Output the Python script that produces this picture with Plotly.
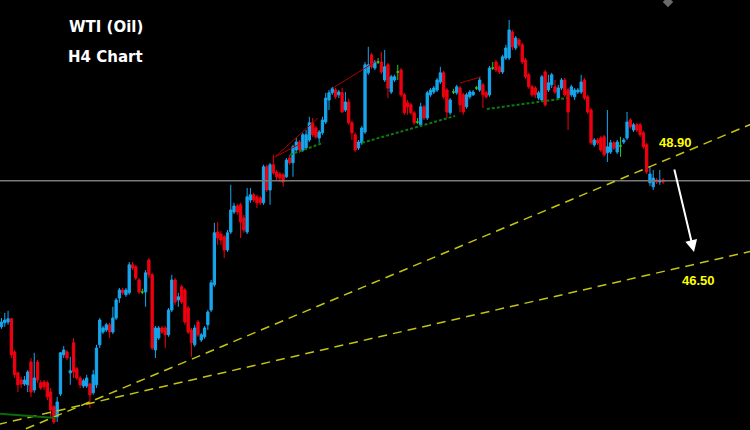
import plotly.graph_objects as go

# ---- data (WTI H4 candles) ----
opens = [45.03, 45.13, 45.15, 45.23, 44.40, 43.88, 43.70, 43.60, 43.58, 44.15,
         43.45, 44.15, 43.63, 43.65, 43.63, 43.40, 43.03, 42.78, 43.35, 44.33,
         44.40, 43.88, 44.63, 43.98, 43.75, 43.55, 43.55, 43.60, 43.38, 43.58,
         44.58, 44.90, 44.95, 45.08, 44.90, 45.25, 45.75, 45.95, 45.83, 45.88,
         46.58, 46.53, 46.20, 45.90, 45.90, 46.70, 46.33, 44.45, 44.75, 45.00,
         45.00, 44.83, 45.45, 46.20, 45.70, 46.03, 45.95, 45.50, 44.95, 44.58,
         45.15, 44.70, 44.78, 45.08, 45.45, 46.08, 47.40, 47.35, 47.28, 46.95,
         47.40, 47.90, 48.05, 48.08, 47.75, 47.40, 48.20, 48.33, 48.28, 48.25,
         48.13, 49.03, 48.45, 49.08, 48.90, 48.85, 48.83, 48.78, 49.25, 49.13,
         49.45, 49.65, 49.45, 49.50, 49.70, 50.13, 50.00, 49.75, 49.88, 50.15,
         50.70, 50.88, 50.95, 50.83, 50.88, 50.45, 50.65, 50.13, 49.83, 49.50,
         49.63, 49.90, 51.38, 51.83, 51.50, 51.65, 51.65, 51.20, 51.58, 50.90,
         51.20, 51.40, 51.45, 50.83, 50.63, 50.58, 50.38, 50.15, 50.08, 50.53,
         50.25, 50.83, 50.90, 50.95, 51.15, 51.38, 50.95, 50.38, 50.90, 50.88,
         51.00, 50.83, 50.53, 50.78, 50.83, 51.00, 50.95, 51.08, 50.88, 50.83,
         51.50, 51.65, 51.53, 51.40, 51.75, 51.75, 52.40, 52.00, 52.20, 52.08,
         51.70, 51.33, 51.03, 51.00, 50.75, 50.70, 51.40, 50.95, 51.08, 51.03,
         50.75, 51.00, 51.20, 50.95, 50.83, 50.78, 50.90, 50.90, 51.20, 50.78,
         50.45, 49.58, 49.70, 49.75, 49.78, 49.38, 49.40, 49.63, 49.40, 49.55,
         49.65, 49.75, 50.20, 49.95, 50.08, 50.08, 49.88, 49.58, 48.63, 48.53,
         48.70, 48.65, 48.70]
closes = [45.15, 45.20, 45.23, 44.33, 43.83, 43.58, 43.60, 43.70, 43.90, 43.40,
          43.75, 43.70, 43.50, 43.53, 43.28, 42.95, 42.65, 43.15, 44.38, 44.45,
          44.25, 43.93, 43.90, 43.75, 43.58, 43.68, 43.75, 43.33, 43.83, 44.50,
          45.20, 45.00, 45.08, 44.90, 45.25, 45.70, 45.95, 45.88, 45.95, 46.58,
          46.50, 46.25, 45.90, 45.90, 46.38, 46.33, 44.50, 45.00, 45.00, 44.90,
          44.83, 45.45, 46.20, 45.65, 45.78, 45.65, 45.15, 44.90, 44.63, 45.00,
          44.83, 44.83, 45.00, 45.40, 46.13, 47.38, 47.25, 47.20, 46.95, 47.38,
          47.95, 48.05, 47.90, 47.65, 47.45, 48.28, 48.33, 48.20, 48.13, 48.13,
          49.03, 48.45, 49.08, 48.88, 48.78, 48.75, 48.65, 49.20, 49.13, 49.53,
          49.65, 49.45, 49.83, 49.83, 50.13, 49.83, 49.78, 49.90, 50.20, 50.75,
          50.88, 50.98, 50.78, 50.90, 50.40, 50.65, 50.13, 49.88, 49.45, 49.65,
          50.00, 51.58, 51.58, 51.53, 51.65, 51.65, 51.40, 51.53, 51.00, 51.28,
          51.28, 51.40, 50.83, 50.38, 50.53, 50.38, 50.13, 50.15, 50.53, 50.25,
          50.88, 50.95, 51.00, 51.20, 51.38, 50.78, 50.40, 50.70, 50.90, 51.03,
          50.58, 50.40, 50.83, 50.90, 50.90, 51.00, 51.20, 50.83, 50.78, 51.50,
          51.50, 51.45, 51.40, 51.78, 52.00, 52.45, 52.03, 52.25, 52.08, 51.65,
          51.28, 51.03, 50.83, 50.83, 50.88, 51.28, 50.58, 51.13, 51.33, 50.90,
          51.00, 51.20, 50.83, 50.40, 51.03, 50.95, 50.95, 51.15, 50.75, 50.40,
          49.63, 49.70, 49.63, 49.45, 49.33, 49.53, 49.63, 49.50, 49.65, 49.55,
          49.70, 50.15, 50.03, 50.08, 49.95, 49.83, 49.53, 48.90, 48.85, 48.75,
          48.65, 48.70, 48.65]
highs = [45.25, 45.38, 45.43, 45.25, 44.45, 43.90, 43.78, 43.80, 43.95, 44.25,
         44.38, 44.20, 43.70, 43.70, 43.68, 43.50, 43.08, 43.28, 44.40, 44.55,
         44.45, 44.28, 44.75, 44.03, 43.80, 43.73, 43.83, 43.63, 43.95, 44.58,
         45.25, 45.05, 45.13, 45.13, 45.53, 45.75, 46.00, 46.00, 46.00, 46.65,
         46.65, 46.58, 46.25, 45.98, 46.45, 46.75, 46.38, 45.05, 45.05, 45.05,
         45.05, 45.50, 46.33, 46.25, 45.88, 46.08, 46.00, 45.55, 45.00, 45.08,
         45.20, 44.88, 45.05, 45.45, 46.20, 47.63, 47.65, 47.43, 47.33, 47.45,
         48.58, 48.13, 48.10, 48.13, 47.83, 48.50, 48.50, 48.38, 48.33, 48.30,
         49.08, 49.08, 49.13, 49.33, 48.95, 48.90, 48.88, 49.25, 49.33, 49.58,
         49.75, 49.70, 49.88, 49.95, 50.28, 50.25, 50.05, 49.95, 50.28, 50.88,
         50.95, 51.03, 51.00, 50.95, 51.00, 50.90, 50.73, 50.18, 49.88, 49.70,
         50.05, 51.65, 52.03, 51.88, 51.70, 51.75, 51.90, 51.95, 51.63, 51.33,
         51.33, 51.58, 51.50, 50.88, 50.70, 50.63, 50.43, 50.25, 50.63, 50.58,
         50.93, 51.00, 51.05, 51.25, 51.53, 51.43, 51.00, 50.75, 50.98, 51.08,
         51.05, 50.88, 50.88, 50.95, 50.95, 51.05, 51.28, 51.13, 50.93, 51.55,
         51.65, 51.70, 51.58, 51.83, 52.08, 52.70, 52.45, 52.30, 52.25, 52.13,
         51.75, 51.38, 51.08, 51.05, 50.93, 51.33, 51.45, 51.33, 51.38, 51.20,
         51.08, 51.25, 51.25, 51.00, 51.08, 51.00, 51.00, 51.33, 51.25, 50.83,
         50.50, 49.75, 49.75, 49.80, 49.83, 50.45, 49.70, 49.68, 49.70, 49.78,
         49.75, 50.40, 50.25, 50.13, 50.13, 50.13, 49.93, 49.63, 49.05, 48.95,
         48.75, 48.95, 48.75]
lows = [44.98, 45.03, 45.08, 44.25, 43.75, 43.40, 43.50, 43.55, 43.40, 43.28,
        43.38, 43.63, 43.45, 43.45, 43.20, 42.75, 42.60, 42.65, 43.30, 44.25,
        44.20, 43.58, 43.75, 43.70, 43.50, 43.50, 43.50, 43.00, 43.33, 43.50,
        44.50, 44.85, 44.90, 44.75, 44.85, 45.20, 45.63, 45.83, 45.78, 45.83,
        46.45, 46.20, 45.85, 45.85, 45.53, 46.25, 44.45, 44.25, 44.70, 44.85,
        44.50, 44.78, 45.40, 45.58, 45.53, 45.60, 45.08, 44.85, 44.28, 44.53,
        44.78, 44.65, 44.73, 44.95, 45.40, 46.03, 47.08, 47.08, 46.75, 46.90,
        47.35, 47.85, 47.83, 47.25, 47.38, 47.35, 48.13, 48.15, 48.00, 48.08,
        48.08, 48.40, 48.08, 48.83, 48.70, 48.65, 48.53, 48.75, 49.08, 48.78,
        49.40, 49.38, 49.40, 49.45, 49.65, 49.78, 49.73, 49.63, 49.83, 50.10,
        50.45, 50.83, 50.73, 50.75, 50.38, 50.40, 50.08, 49.70, 49.40, 49.45,
        49.58, 49.85, 51.33, 51.48, 51.45, 51.60, 51.35, 51.15, 50.75, 50.85,
        51.15, 51.20, 50.78, 50.33, 50.33, 50.33, 50.08, 50.10, 50.03, 50.20,
        50.20, 50.78, 50.85, 50.90, 51.10, 50.73, 50.25, 50.33, 50.85, 50.83,
        50.40, 50.33, 50.48, 50.73, 50.80, 50.95, 50.90, 50.50, 50.73, 50.78,
        51.45, 51.40, 51.35, 51.35, 51.70, 51.70, 51.95, 51.95, 52.03, 51.60,
        51.23, 50.98, 50.78, 50.75, 50.70, 50.65, 50.53, 50.90, 51.00, 50.85,
        50.70, 50.95, 50.78, 49.95, 50.78, 50.70, 50.85, 50.85, 50.70, 50.35,
        49.58, 49.53, 49.58, 49.40, 49.28, 49.15, 49.35, 49.45, 49.35, 49.28,
        49.60, 49.70, 49.98, 49.90, 49.90, 49.78, 49.48, 48.85, 48.55, 48.45,
        48.60, 48.58, 48.60]
bars = list(range(len(opens)))

current_price = 48.68
# trendlines: (bar, price) anchors
upper_trend = [(-1, 42.19), (229, 50.10)]
lower_trend = [(-1, 42.59), (229, 46.92)]
ma_line = [(-1, 42.86), (16.5, 42.75)]
green_dotted = [[(88.1, 49.33), (98.2, 49.63)],
                [(110.1, 49.63), (138.5, 50.30)],
                [(148.2, 50.475), (172.7, 50.75)]]
red_lines = [[(83.5, 49.275), (96.6, 50.25)],
             [(83.5, 49.275), (90.5, 49.575)],
             [(101.2, 51.00), (115.0, 51.70)],
             [(140.0, 51.125), (146.4, 51.275)]]
level_labels = [("48.90", 205.9, 49.63), ("46.50", 212.7, 46.20)]
arrow_head = (211.45, 46.90)
corner_mark = (203.5, 53.15)

UP = "#16A6EE"
DOWN = "#F00010"
DOJI = "#22CC22"

fig = go.Figure()

def add_line(pts, color, width, dash=None):
    fig.add_trace(go.Scatter(x=[p[0] for p in pts], y=[p[1] for p in pts], mode="lines",
                             line=dict(color=color, width=width, dash=dash),
                             hoverinfo="skip", showlegend=False))

add_line([(-1, current_price), (229, current_price)], "#7a7a7a", 1.5)
add_line(upper_trend, "#C4C412", 1.5, "9px,6px")
add_line(lower_trend, "#C4C412", 1.5, "9px,6px")
add_line(ma_line, "#0B6B0B", 2)
for seg in green_dotted:
    add_line(seg, "#0E7A0E", 2, "3px,2px")
for seg in red_lines:
    add_line(seg, "#B00000", 1)

norm = [i for i in bars if opens[i] != closes[i]]
doji = [i for i in bars if opens[i] == closes[i]]

fig.add_trace(go.Candlestick(
    x=[bars[i] for i in norm], open=[opens[i] for i in norm], high=[highs[i] for i in norm],
    low=[lows[i] for i in norm], close=[closes[i] for i in norm],
    increasing=dict(line=dict(color=UP, width=1), fillcolor=UP),
    decreasing=dict(line=dict(color=DOWN, width=1), fillcolor=DOWN),
    whiskerwidth=0, hoverinfo="skip", showlegend=False))
fig.add_trace(go.Candlestick(
    x=[bars[i] for i in doji], open=[opens[i] for i in doji], high=[highs[i] for i in doji],
    low=[lows[i] for i in doji], close=[closes[i] for i in doji],
    increasing=dict(line=dict(color=DOJI, width=1), fillcolor=DOJI),
    decreasing=dict(line=dict(color=DOJI, width=1), fillcolor=DOJI),
    whiskerwidth=0, hoverinfo="skip", showlegend=False))

fig.add_trace(go.Scatter(x=[corner_mark[0]], y=[corner_mark[1]], mode="markers",
                         marker=dict(symbol="diamond", size=8, color="#6a6a6a"),
                         cliponaxis=False, hoverinfo="skip", showlegend=False))

TITLE_FONT = "DejaVu Sans, Verdana, sans-serif"
LABEL_FONT = "Arial, Liberation Sans, sans-serif"
annotations = [
    dict(x=0.1413, y=0.937, xref="paper", yref="paper", xanchor="center", yanchor="middle",
         text="<b>WTI (Oil)</b>", showarrow=False, font=dict(family=TITLE_FONT, size=15, color="white")),
    dict(x=0.1413, y=0.8674, xref="paper", yref="paper", xanchor="center", yanchor="middle",
         text="<b>H4 Chart</b>", showarrow=False, font=dict(family=TITLE_FONT, size=15, color="white")),
    dict(x=arrow_head[0], y=arrow_head[1], xref="x", yref="y", ax=-20, ay=-84, axref="pixel", ayref="pixel",
         text="", showarrow=True, arrowhead=2, arrowsize=1.2, arrowwidth=2, arrowcolor="white"),
]
for txt, bx, py in level_labels:
    annotations.append(dict(x=bx, y=py, xref="x", yref="y", xanchor="center", yanchor="middle",
                            text="<b>" + txt + "</b>", showarrow=False,
                            font=dict(family=LABEL_FONT, size=13, color="#FFFF00")))

fig.update_layout(
    width=750, height=430, margin=dict(l=0, r=0, t=0, b=0),
    paper_bgcolor="black", plot_bgcolor="black",
    xaxis=dict(range=[-0.46, 228.55], visible=False, rangeslider=dict(visible=False), fixedrange=True),
    yaxis=dict(range=[42.45, 53.2], visible=False, fixedrange=True),
    boxgap=0.3, boxgroupgap=0, boxmode="overlay",
    annotations=annotations, showlegend=False,
)

fig.write_html("out.html", config={"displayModeBar": False, "staticPlot": True},
               post_script="document.body.style.margin='0';document.body.style.background='black';")
